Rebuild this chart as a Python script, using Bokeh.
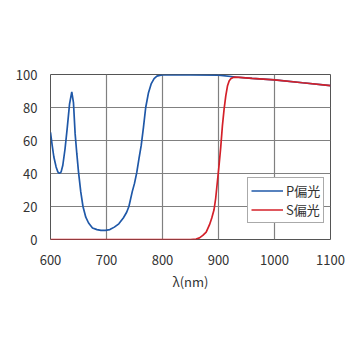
from bokeh.plotting import figure
from bokeh.models import Range1d, FixedTicker, Legend, LegendItem, Label
from bokeh.embed import file_html
from bokeh.resources import INLINE

# P-polarized (blue)
wl_p = [600, 603, 606, 610, 613, 616, 619, 622, 626, 630, 634, 638, 641, 644, 647, 650,
        654, 658, 663, 668, 675, 683, 690, 698, 706, 714, 722, 730, 736, 740, 746, 750,
        754, 758, 762, 766, 770, 775, 780, 785, 790, 795, 800, 850, 900, 930, 960, 1000,
        1050, 1100]
t_p = [65, 57, 50, 44, 41, 40, 41, 45, 55, 68, 82, 89.5, 83, 64, 52, 41,
       29, 20, 13.5, 10, 7, 6, 5.5, 5.5, 6, 7.5, 9.5, 13, 16.5, 20, 29, 34,
       40.5, 49, 57, 68, 80, 89, 94.5, 97.5, 99, 99.5, 99.7, 99.8, 99.6, 98.5, 97.6, 96.8,
       95, 93.3]

# S-polarized (red)
wl_s = [600, 850, 860, 866, 872, 878, 884, 888, 892, 895, 898, 901, 904, 907, 910, 913,
        916, 919, 922, 926, 930, 960, 1000, 1050, 1100]
t_s = [0, 0, 0.3, 1, 2.5, 4.5, 9, 13, 18, 25, 35, 45, 56, 69, 79, 87,
       93, 96, 97.5, 98.2, 98.4, 97.6, 96.8, 95, 93.3]

x_ticks = [600, 700, 800, 900, 1000, 1100]
y_ticks = [0, 20, 40, 60, 80, 100]
labels = ["P偏光", "S偏光"]

FONT = "Noto Sans CJK JP"

p = figure(width=350, height=350, output_backend="svg", toolbar_location=None,
           x_range=Range1d(600, 1100), y_range=Range1d(0, 100),
           min_border_left=50, min_border_right=20, min_border_top=74, min_border_bottom=111)
p.background_fill_color = "white"
p.border_fill_color = "white"
p.outline_line_color = "#555555"
p.outline_line_width = 1

for ax in (p.xaxis, p.yaxis):
    ax.axis_line_color = None
    ax.major_tick_line_color = None
    ax.minor_tick_line_color = None
    ax.major_label_text_font = FONT
    ax.major_label_text_font_size = "13px"
    ax.major_label_text_color = "#333333"
p.xaxis.ticker = FixedTicker(ticks=x_ticks)
p.yaxis.ticker = FixedTicker(ticks=y_ticks)
p.xaxis.major_label_standoff = 9
p.yaxis.major_label_standoff = 7
p.xaxis.axis_label = "λ(nm)"
p.xaxis.axis_label_text_font = FONT
p.xaxis.axis_label_text_font_size = "13px"
p.xaxis.axis_label_text_font_style = "normal"
p.xaxis.axis_label_text_color = "#333333"
p.xaxis.axis_label_standoff = 4

p.xgrid.ticker = FixedTicker(ticks=x_ticks)
p.ygrid.ticker = FixedTicker(ticks=y_ticks)
p.grid.grid_line_color = "#808080"
p.grid.grid_line_width = 1.2
p.grid.grid_line_alpha = 1

r_p = p.line(wl_p, t_p, line_color="#1f58a8", line_width=1.7)
r_s = p.line(wl_s, t_s, line_color="#d42029", line_width=1.7)

p.add_layout(Label(x=537.5, y=51, text="T", text_align="center", text_baseline="middle",
                   text_font=FONT, text_font_size="13px", text_color="#333333"))
p.add_layout(Label(x=537.5, y=41.5, text="(%)", text_align="center", text_baseline="middle",
                   text_font=FONT, text_font_size="13px", text_color="#333333"))

legend = Legend(items=[LegendItem(label=labels[0], renderers=[r_p]),
                       LegendItem(label=labels[1], renderers=[r_s])],
                location=(197, 16))
legend.border_line_color = "#555555"
legend.border_line_width = 1
legend.background_fill_color = "white"
legend.background_fill_alpha = 1
legend.label_text_font = FONT
legend.label_text_font_size = "13px"
legend.label_text_color = "#333333"
legend.glyph_width = 32
legend.glyph_height = 13
legend.label_height = 13
legend.label_standoff = 3
legend.padding = 3
legend.spacing = 0
legend.margin = 0
p.add_layout(legend)

open("out.html", "w").write(file_html(p, INLINE))
